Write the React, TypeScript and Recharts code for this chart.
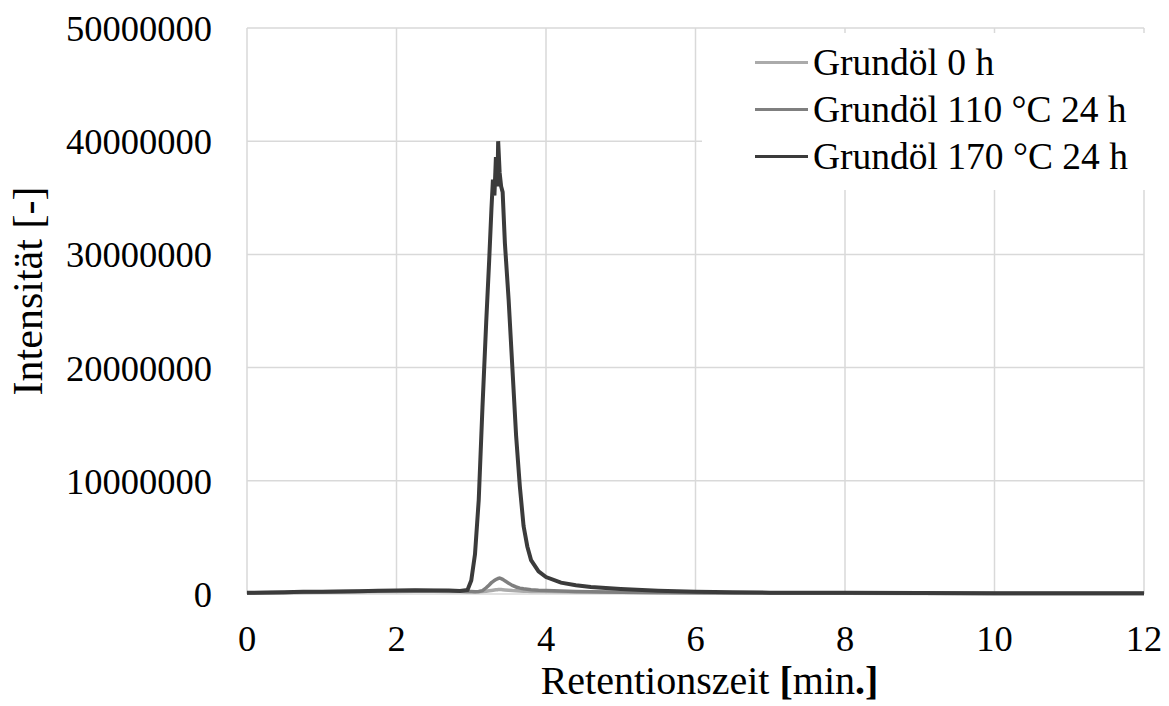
import { LineChart, Line, XAxis, YAxis, CartesianGrid, Legend } from 'recharts'

// Retention time in minutes
const retentionTime = [
  0, 0.25, 0.5, 0.75, 1, 1.25, 1.5, 1.75, 2, 2.25, 2.5, 2.7, 2.85, 2.95, 3, 3.05,
  3.1, 3.15, 3.2, 3.24, 3.27, 3.29, 3.31, 3.33, 3.35, 3.36, 3.38, 3.4, 3.42, 3.45,
  3.5, 3.55, 3.6, 3.65, 3.7, 3.75, 3.8, 3.9, 4, 4.2, 4.4, 4.6, 4.8, 5, 5.5, 6, 6.5,
  7, 8, 9, 10, 11, 12,
]

// intensities in millions
const oil0hMio = [
  0.07, 0.09, 0.11, 0.13, 0.15, 0.17, 0.19, 0.21, 0.23, 0.24, 0.24, 0.23, 0.21, 0.2,
  0.19, 0.19, 0.19, 0.21, 0.24, 0.28, 0.31, 0.33, 0.35, 0.37, 0.38, 0.39, 0.4, 0.39,
  0.38, 0.36, 0.33, 0.3, 0.28, 0.26, 0.25, 0.24, 0.23, 0.22, 0.21, 0.2, 0.18, 0.17,
  0.16, 0.15, 0.12, 0.1, 0.08, 0.07, 0.06, 0.05, 0.05, 0.04, 0.04,
]
const oil110Mio = [
  0.09, 0.12, 0.14, 0.17, 0.19, 0.21, 0.24, 0.27, 0.29, 0.31, 0.3, 0.28, 0.25, 0.22,
  0.21, 0.2, 0.22, 0.3, 0.55, 0.8, 1.0, 1.1, 1.2, 1.28, 1.34, 1.37, 1.4, 1.36, 1.3,
  1.16, 0.96, 0.76, 0.62, 0.52, 0.46, 0.42, 0.38, 0.33, 0.3, 0.26, 0.22, 0.2, 0.18,
  0.16, 0.13, 0.1, 0.09, 0.08, 0.07, 0.06, 0.05, 0.05, 0.05,
]
const oil170Mio = [
  0.1, 0.13, 0.15, 0.19, 0.2, 0.23, 0.25, 0.29, 0.31, 0.34, 0.32, 0.3, 0.26, 0.35,
  1.2, 3.5, 8.3, 16.5, 24.0, 29.5, 34.0, 36.6, 35.2, 38.6, 36.0, 40.0, 37.2, 36.0,
  35.5, 31.0, 26.0, 20.0, 14.0, 9.5, 6.0, 4.2, 3.0, 2.0, 1.5, 1.0, 0.78, 0.62, 0.52,
  0.44, 0.29, 0.2, 0.15, 0.12, 0.1, 0.08, 0.07, 0.06, 0.06,
]

const xTicks = [0, 2, 4, 6, 8, 10, 12]
const yTicks = [0, 10000000, 20000000, 30000000, 40000000, 50000000]

const seriesNames = ['Grundöl 0 h', 'Grundöl 110 °C 24 h', 'Grundöl 170 °C 24 h']
const seriesColors = ['#ababab', '#7f7f7f', '#3b3b3b']

const data = retentionTime.map((t, i) => ({
  t,
  oil0h: oil0hMio[i] * 1e6,
  oil110: oil110Mio[i] * 1e6,
  oil170: oil170Mio[i] * 1e6,
}))

const font = '"Liberation Serif", "Times New Roman", serif'

function XTitle({ viewBox }: any) {
  const { x, y, width } = viewBox
  return (
    <text x={x + width / 2 + 14} y={y + 100} textAnchor="middle" fontFamily={font} fontSize={40} fill="#000">
      Retentionszeit <tspan fontWeight="bold">[</tspan>min<tspan fontWeight="bold">.]</tspan>
    </text>
  )
}

function YTitle({ viewBox }: any) {
  const { y, height } = viewBox
  const cx = 28
  const cy = y + height / 2 - 20
  return (
    <text
      x={cx}
      y={cy}
      textAnchor="middle"
      dominantBaseline="central"
      transform={`rotate(-90 ${cx} ${cy})`}
      fontFamily={font}
      fontSize={42}
      fill="#000"
    >
      Intensität [-]
    </text>
  )
}

function LegendBox({ payload }: any) {
  return (
    <div style={{ paddingTop: 6, paddingLeft: 53 }}>
      {(payload ?? []).map((p: any) => (
        <div key={p.value} style={{ display: 'flex', alignItems: 'center', height: 47 }}>
          <span style={{ width: 53, height: 3, background: p.color, marginRight: 5, display: 'inline-block' }} />
          <span style={{ fontFamily: font, fontSize: 37.5, color: '#000', lineHeight: '47px' }}>{p.value}</span>
        </div>
      ))}
    </div>
  )
}

export default function App() {
  return (
    <div style={{ position: 'absolute', left: 0, top: 0, background: '#fff' }}>
      <LineChart width={1169} height={706} data={data} margin={{ top: 28, right: 25, bottom: 32, left: 0 }}>
        <CartesianGrid stroke="#d9d9d9" strokeWidth={1.5} />
        <XAxis
          dataKey="t"
          type="number"
          domain={[0, 12]}
          ticks={xTicks}
          height={80}
          axisLine={false}
          tickLine={false}
          tickSize={0}
          tickMargin={31}
          tick={{ fontFamily: font, fontSize: 36.5, fill: '#000' }}
          label={{ content: XTitle }}
        />
        <YAxis
          type="number"
          domain={[0, 50000000]}
          ticks={yTicks}
          width={247}
          axisLine={false}
          tickLine={false}
          tickSize={0}
          tickMargin={35}
          tick={{ fontFamily: font, fontSize: 36.5, fill: '#000' }}
          label={{ content: YTitle }}
        />
        <Legend
          layout="vertical"
          align="center"
          verticalAlign="middle"
          content={LegendBox}
          wrapperStyle={{ position: 'absolute', left: 702, top: 33, width: 448, height: 157, background: '#fff' }}
        />
        <Line type="linear" dataKey="oil0h" name={seriesNames[0]} stroke={seriesColors[0]} strokeWidth={3.5} dot={false} isAnimationActive={false} />
        <Line type="linear" dataKey="oil110" name={seriesNames[1]} stroke={seriesColors[1]} strokeWidth={3.5} dot={false} isAnimationActive={false} />
        <Line type="linear" dataKey="oil170" name={seriesNames[2]} stroke={seriesColors[2]} strokeWidth={4} dot={false} isAnimationActive={false} />
      </LineChart>
    </div>
  )
}
